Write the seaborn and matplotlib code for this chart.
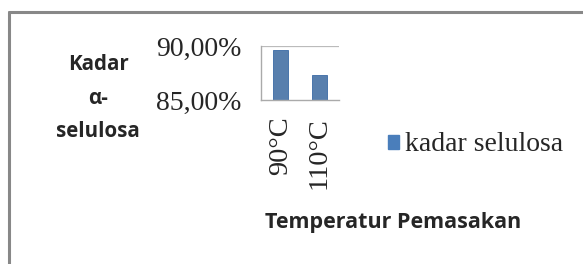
import numpy as np
import pandas as pd
import matplotlib
matplotlib.use("Agg")
import matplotlib.pyplot as plt
import seaborn as sns
from matplotlib.lines import Line2D
from matplotlib.patches import Patch

# data
temps = ["90°C", "110°C"]
kadar = [89.6, 87.3]
yticks = [85, 90]
ytick_labels = ["85,00%", "90,00%"]

df = pd.DataFrame({"Temperatur": temps, "Kadar": kadar})

sns.set_style("white")
plt.rcParams["font.family"] = ["Liberation Serif", "DejaVu Serif"]

W, H = 583, 264
fig = plt.figure(figsize=(W / 100, H / 100), dpi=100)

# axes placed in pixel terms
l, r, t, b = 261, 339, 46, 100
ax = fig.add_axes([l / W, 1 - b / H, (r - l) / W, (b - t) / H])

sns.barplot(data=df, x="Temperatur", y="Kadar", color="#4A7EBB", width=0.38,
            ax=ax, edgecolor="#3A6AA5", linewidth=0.6)
ax.set_ylim(85, 90)
ax.set_yticks(yticks)
ax.set_yticklabels(ytick_labels, fontsize=20)
ax.tick_params(axis="y", length=4, pad=10, color="#888888", direction="out")
ax.tick_params(axis="x", length=4, pad=8, color="#888888", direction="out",
               labelsize=20.5, labelrotation=90)
for lab in ax.get_xticklabels():
    lab.set_va("top")
ax.axhline(90, color="#BBBBBB", lw=0.9, zorder=0)
for s in ["top", "right"]:
    ax.spines[s].set_visible(False)
for s in ["left", "bottom"]:
    ax.spines[s].set_color("#AAAAAA")
    ax.spines[s].set_linewidth(1.0)
ax.grid(False)

ax.set_xlabel("Temperatur Pemasakan", family="Open Sans", fontweight="bold",
              fontsize=15.5)
ax.xaxis.set_label_coords((393 - l) / (r - l), -(212 - b) / (b - t))
ax.set_ylabel("Kadar\nα-\nselulosa", family="Open Sans", fontweight="bold",
              fontsize=14.8, rotation=0, linespacing=1.78, va="center", ha="center")
ax.yaxis.set_label_coords((98 - l) / (r - l), (b - 98) / (b - t))

fig.legend(handles=[Patch(facecolor="#4A7EBB", edgecolor="#4A7EBB",
                          label="kadar selulosa")],
           loc="center left", bbox_to_anchor=(377 / W, 1 - 145 / H),
           frameon=False, fontsize=20, handlelength=0.4, handleheight=0.4,
           handletextpad=0.2, borderaxespad=0)

# outer chart frame (top and left edges visible)
fig.add_artist(Line2D([9 / W, 1], [1 - 12 / H, 1 - 12 / H], color="#888888", lw=2.2))
fig.add_artist(Line2D([9 / W, 9 / W], [0, 1 - 12 / H], color="#888888", lw=2.2))

fig.savefig("out.png", dpi=100)
